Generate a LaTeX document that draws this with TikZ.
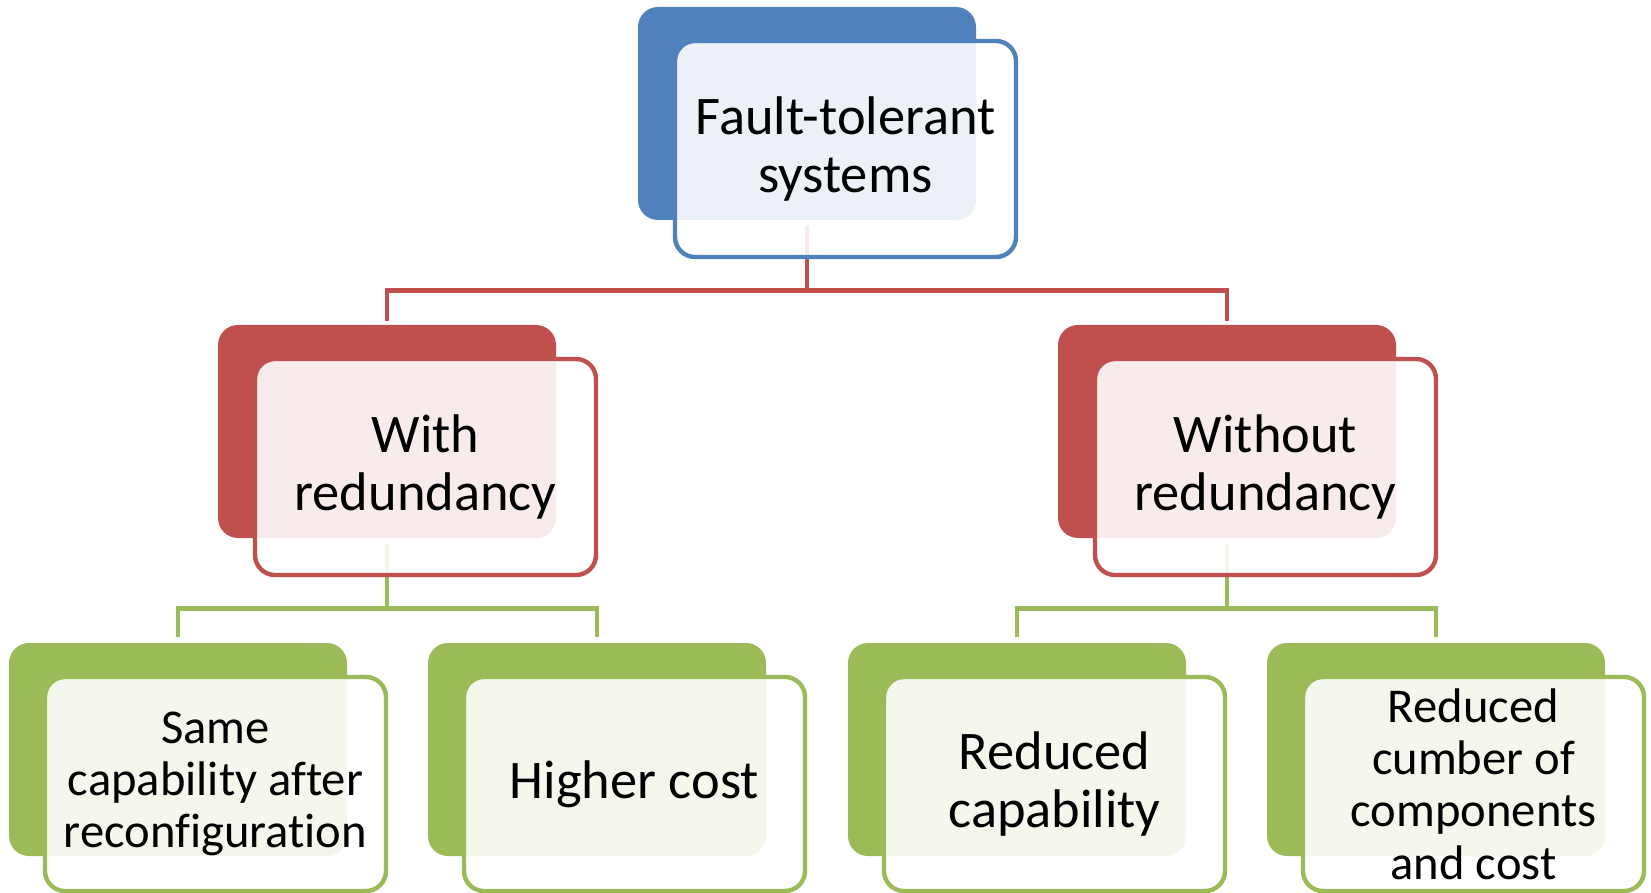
\documentclass[tikz,border=0pt]{standalone}
\usepackage{fontspec}
\setmainfont[Ligatures=NoCommon]{Carlito}
\begin{document}
\begin{tikzpicture}[x=0.5pt,y=-0.5pt,
  back/.style={draw=none,fill=#1,rounded corners=10pt,minimum width=169pt,minimum height=106.5pt,anchor=north west,inner sep=0pt,outer sep=0pt},
  front/.style={draw=#1,line width=2.2pt,fill=white,fill opacity=0.89,text opacity=1,rounded corners=10pt,minimum width=170.5pt,minimum height=108pt,anchor=north west,inner sep=0pt,outer sep=0pt,align=center,font=\fontsize{27.2pt}{29pt}\selectfont},
  frontsmall/.style={front=#1,minimum height=107pt,font=\fontsize{24.3pt}{26.2pt}\selectfont},
  conn/.style={draw=#1,line width=2.3pt}]
\definecolor{cblue}{RGB}{79,129,189}
\definecolor{cred}{RGB}{192,80,77}
\definecolor{cgreen}{RGB}{155,187,89}
\useasboundingbox (0,0) rectangle (1651,893);

% junction coordinates
\coordinate (rj) at (807,290.5);
\coordinate (gjl) at (387,608.5);
\coordinate (gjr) at (1227,608.5);

% back boxes
\node[back=cblue] (tb) at (638,7) {};
\node[back=cred] (mlb) at (218,325) {};
\node[back=cred] (mrb) at (1058,325) {};
\node[back=cgreen] (b1b) at (9,643) {};
\node[back=cgreen] (b2b) at (428,643) {};
\node[back=cgreen] (b3b) at (848,643) {};
\node[back=cgreen] (b4b) at (1267,643) {};

% connectors (drawn beneath the front boxes)
\draw[conn=cred] ([yshift=-3pt]tb.south) -- (rj);
\draw[conn=cred] ([yshift=2pt]mlb.north) |- (rj) -| ([yshift=2pt]mrb.north);
\draw[conn=cgreen] ([yshift=-3pt]mlb.south) -- (gjl);
\draw[conn=cgreen] ([yshift=-3pt]mrb.south) -- (gjr);
\draw[conn=cgreen] ([yshift=3pt]b1b.north) |- (gjl) -| ([yshift=3pt]b2b.north);
\draw[conn=cgreen] ([yshift=3pt]b3b.north) |- (gjr) -| ([yshift=3pt]b4b.north);

% front boxes with text
\node[front=cblue] (t) at (675,41) {Fault-tolerant\\systems};
\node[front=cred] (ml) at (255,359) {With\\redundancy};
\node[front=cred] (mr) at (1095,359) {Without\\redundancy};
\node[frontsmall=cgreen] (b1) at (45,677) {Same\\capability after\\reconfiguration};
\node[frontsmall=cgreen,font=\fontsize{27.2pt}{29pt}\selectfont] (b2) at (464,677) {Higher cost};
\node[frontsmall=cgreen,font=\fontsize{27.2pt}{29pt}\selectfont] (b3) at (884,677) {Reduced\\capability};
\node[frontsmall=cgreen] (b4) at (1303,677) {Reduced\\cumber of\\components\\and cost};
\end{tikzpicture}
\end{document}
